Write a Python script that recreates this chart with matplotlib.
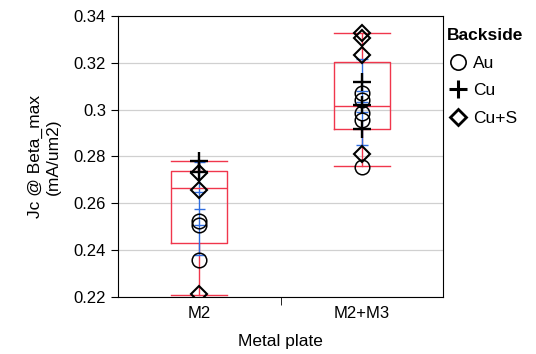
import numpy as np
import matplotlib
matplotlib.use("Agg")
from matplotlib import pyplot as plt
from matplotlib.lines import Line2D

plt.rcParams['font.family'] = ['Liberation Sans', 'DejaVu Sans']

groups = ['M2', 'M2+M3']

# points per backside, per metal plate
au = [[0.2522, 0.2505, 0.2356], [0.3070, 0.3040, 0.2985, 0.2955, 0.2755]]
cu = [[0.2778, 0.2732], [0.3118, 0.3020, 0.2918]]
cus = [[0.2727, 0.2655, 0.2210], [0.3327, 0.3306, 0.3234, 0.2808]]

# box stats
whislo = [0.2208, 0.2757]
q1 = [0.2430, 0.2918]
med = [0.2663, 0.3015]
q3 = [0.2735, 0.3201]
whishi = [0.2778, 0.3327]

# blue mean / se / sd marks
means = [0.2576, 0.3034]
se = [0.0070, 0.0046]
sd = [0.0200, 0.0184]

yticks = [0.22, 0.24, 0.26, 0.28, 0.30, 0.32, 0.34]
ytick_labels = ['0.22', '0.24', '0.26', '0.28', '0.3', '0.32', '0.34']

fig = plt.figure(figsize=(5.36, 3.54), dpi=100)
ax = fig.add_axes([0.220, 0.162, 0.607, 0.793])

ax.set_xlim(-0.5, 1.5)
ax.set_ylim(0.22, 0.34)
ax.set_yticks(yticks)
ax.set_yticklabels(ytick_labels, fontsize=12)
ax.grid(axis='y', color='#d0d0d0', linewidth=0.9)
ax.set_axisbelow(True)

red = '#f0364c'
blue = '#2f6de0'

stats = []
for i in range(len(groups)):
    stats.append(dict(whislo=whislo[i], q1=q1[i], med=med[i], q3=q3[i], whishi=whishi[i]))
ax.bxp(stats, positions=range(len(groups)), widths=0.345, capwidths=0.345, showfliers=False,
       boxprops=dict(color=red, linewidth=1.0), medianprops=dict(color=red, linewidth=1.0),
       whiskerprops=dict(color=red, linewidth=1.0), capprops=dict(color=red, linewidth=1.0),
       zorder=2)

for i in range(len(groups)):
    m, s, d = means[i], se[i], sd[i]
    ax.vlines(i, m - d, m + d, color=blue, linewidth=1.0, zorder=2)
    ax.hlines([m - d, m + d, m - s, m + s, m], i - 0.035, i + 0.035, color=blue, linewidth=1.0, zorder=2)

for i in range(len(groups)):
    ax.plot([i] * len(au[i]), au[i], 'o', ms=10.5, mfc='none', mec='black', mew=1.1, zorder=3)
    ax.plot([i] * len(cu[i]), cu[i], '+', ms=13, mec='black', mew=1.7, zorder=3)
    ax.plot([i] * len(cus[i]), cus[i], 'D', ms=8, mfc='none', mec='black', mew=1.5, zorder=3)

ax.set_xticks(range(len(groups)))
ax.set_xticklabels(groups, fontsize=12)
ax.tick_params(axis='x', which='major', length=0, pad=7)
ax.set_xticks([0.5], minor=True)
ax.tick_params(axis='x', which='minor', length=6, direction='out')
ax.tick_params(axis='y', length=5, direction='out')
ax.set_xlabel('Metal plate', fontsize=12.5, labelpad=9)
ax.set_ylabel('Jc @ Beta_max\n(mA/um2)', fontsize=12.5, labelpad=9, linespacing=1.3)

handles = [
    Line2D([], [], ls='none', marker='o', ms=11, mfc='none', mec='black', mew=1.2),
    Line2D([], [], ls='none', marker='+', ms=13, mec='black', mew=2.2),
    Line2D([], [], ls='none', marker='D', ms=8.5, mfc='none', mec='black', mew=2.0),
]
leg = ax.legend(handles, ['Au', 'Cu', 'Cu+S'], title='Backside', loc='upper left',
                bbox_to_anchor=(0.975, 1.0), frameon=False, fontsize=12.5,
                title_fontproperties={'weight': 'bold', 'size': 12.5},
                handletextpad=0.3, handlelength=1.2, labelspacing=0.72, borderaxespad=0.3)
leg._legend_box.align = 'left'
leg._legend_box.sep = 9

fig.savefig('out.png', dpi=100)
